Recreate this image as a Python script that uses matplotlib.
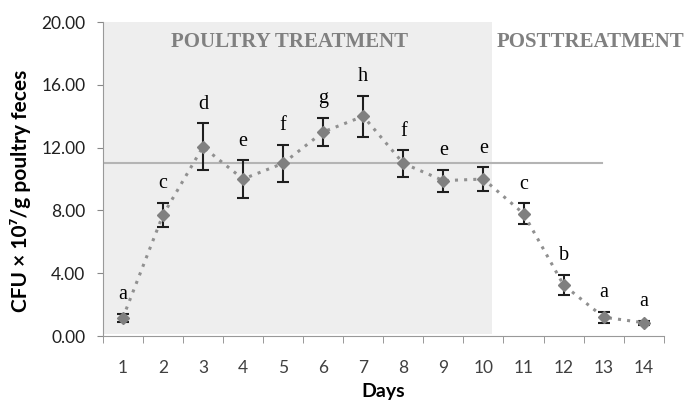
import matplotlib.pyplot as plt
import numpy as np

days = np.arange(1, 15)
cfu = [1.15, 7.7, 12.05, 10.0, 11.0, 13.0, 14.0, 11.0, 9.9, 10.0, 7.8, 3.25, 1.2, 0.85]
err = [0.28, 0.78, 1.5, 1.2, 1.2, 0.9, 1.3, 0.85, 0.7, 0.75, 0.65, 0.65, 0.35, 0.12]
letters = ["a", "c", "d", "e", "f", "g", "h", "f", "e", "e", "c", "b", "a", "a"]
y_ticks = [0, 4, 8, 12, 16, 20]
threshold = 11.0

fig = plt.figure(figsize=(6.85, 4.01), dpi=100)
ax = fig.add_axes([0.150, 0.162, 0.819, 0.783])

# treatment period shading and reference line
ax.fill_between([0.5, 10.22], 0.12, 20, color="#eeeeee", lw=0, zorder=0)
ax.plot([0.5, 12.97], [threshold, threshold], color="#b4b4b4", lw=1.5, zorder=1)

ax.errorbar(days, cfu, yerr=err, fmt="none", ecolor="#1e1e1e",
            elinewidth=1.5, capsize=4, capthick=1.5, zorder=3)
ax.plot(days, cfu, linestyle=(0, (1, 2)), color="#909090", lw=2.2,
        marker="D", markersize=6, markerfacecolor="#808080",
        markeredgecolor="#808080", zorder=4)

for d, v, e, s in zip(days, cfu, err, letters):
    ax.text(d, v + e + 0.6, s, ha="center", va="bottom",
            family="Liberation Serif", fontsize=14.5, color="black")

ax.text(5.15, 18.4, "POULTRY TREATMENT", ha="center", va="baseline",
        family="Liberation Serif", fontweight="bold", fontsize=15,
        color="#808080")
ax.text(12.67, 18.4, "POSTTREATMENT", ha="center", va="baseline",
        family="Liberation Serif", fontweight="bold", fontsize=15,
        color="#808080", clip_on=False)

ax.set_xlim(0.5, 14.5)
ax.set_ylim(0, 20)
ax.set_yticks(y_ticks)
ax.set_yticklabels([f"{t:.2f}" for t in y_ticks], family="Lato")
ax.set_xticks(days)
ax.set_xticklabels([str(d) for d in days], family="Lato")
ax.set_xticks(np.arange(0.5, 15, 1), minor=True)
ax.tick_params(axis="x", which="major", length=0, pad=17,
               labelsize=12.5, labelcolor="#404040")
ax.tick_params(axis="x", which="minor", length=5, color="#888888")
ax.tick_params(axis="y", length=4.5, pad=8, color="#888888", labelsize=12.5,
               labelcolor="#202020")

for side in ["top", "right"]:
    ax.spines[side].set_visible(False)
for side in ["left", "bottom"]:
    ax.spines[side].set_color("#999999")

ax.set_xlabel("Days", family="Lato", fontsize=14, fontweight="bold",
              labelpad=5)
ax.set_ylabel("CFU × 10⁷/g poultry feces", family=["Lato", "DejaVu Sans"],
              fontsize=15, fontweight="bold")
ax.yaxis.set_label_coords(-0.128, 0.462)

fig.savefig("out.png", dpi=100)
